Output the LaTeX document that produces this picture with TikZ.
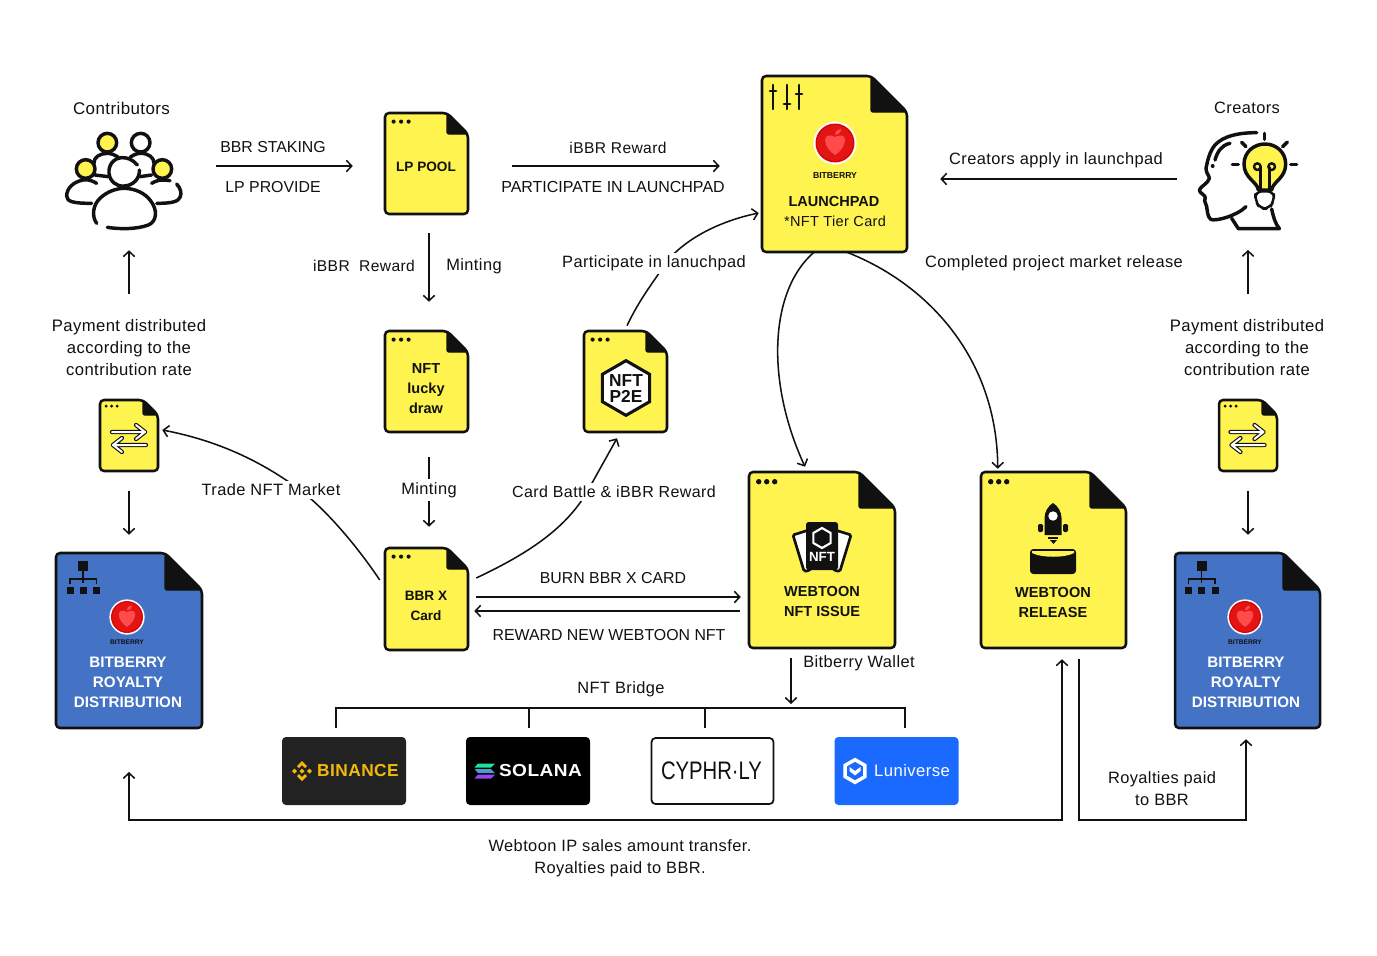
\documentclass[tikz,border=0pt]{standalone}
\usepackage{fontspec}
\setmainfont[LetterSpace=2.5]{Liberation Sans}
\newfontfamily\plainf{Liberation Sans}
\usetikzlibrary{arrows.meta,calc,shapes.geometric}
\definecolor{docy}{HTML}{FFF44F}
\definecolor{docb}{HTML}{4472C4}
\definecolor{ink}{HTML}{111111}
\definecolor{berry}{HTML}{E21414}
\definecolor{berryl}{HTML}{FF4B4B}
\definecolor{binbg}{HTML}{222222}
\definecolor{bingold}{HTML}{F0B90B}
\definecolor{lunib}{HTML}{1A6AFF}
\definecolor{sola}{HTML}{20E0A0}
\definecolor{solb}{HTML}{46A0C8}
\definecolor{solc}{HTML}{9646F0}
\tikzset{
  conn/.style={draw=ink,line width=1.15pt,-{Straight Barb[length=4pt,width=8.5pt,line width=1.15pt]}},
  bothc/.style={draw=ink,line width=1.15pt,{Straight Barb[length=4pt,width=8.5pt,line width=1.15pt]}-{Straight Barb[length=4pt,width=8.5pt,line width=1.15pt]}},
  plainc/.style={draw=ink,line width=1.15pt},
  lbl/.style={font=\fontsize{12.3}{16.5}\selectfont,text=ink,align=center,inner sep=1pt},
  ulbl/.style={font=\plainf\fontsize{11.9}{16.5}\selectfont,text=ink,align=center,inner sep=1pt},
  gaplbl/.style={lbl,fill=white,inner xsep=3pt,inner ysep=2.5pt},
  ttl/.style={font=\plainf\fontsize{10.9}{15}\selectfont\bfseries,text=ink,align=center,inner sep=0pt},
  sttl/.style={font=\plainf\fontsize{10.2}{15}\selectfont\bfseries,text=ink,align=center,inner sep=0pt},
  wttl/.style={font=\plainf\fontsize{11.4}{15.2}\selectfont\bfseries,text=white,align=center,inner sep=0pt},
  tiny/.style={font=\plainf\fontsize{6.5}{7}\selectfont\bfseries,text=ink,inner sep=0pt},
  logobox/.style={rounded corners=3pt,minimum width=93pt,minimum height=51pt,inner sep=0pt},
  ic/.style={draw=ink,line width=2.6pt,line cap=round,line join=round},
  ghost/.style={inner sep=0pt,draw=none},
}
% #1 name, #2 x1, #3 y1, #4 x2, #5 y2, #6 fold, #7 fill, #8 dot radius, #9 dot pitch
\newcommand\docn[9]{%
  \pgfmathsetmacro\dnfx{#4-#6}\pgfmathsetmacro\dnfy{#3+#6}%
  \pgfmathsetmacro\dnw{(#4-#2)*0.75}\pgfmathsetmacro\dnh{(#5-#3)*0.75}%
  \pgfmathsetmacro\dncx{(#4+#2)/2}\pgfmathsetmacro\dncy{(#5+#3)/2}%
  \draw[ink,fill=#7,line width=1.9pt,line join=round,rounded corners=3pt]
    (#2,#3) -- (\dnfx,#3) -- (#4,\dnfy) -- (#4,#5) -- (#2,#5) -- cycle;
  \fill[ink,draw=ink,line width=1pt,rounded corners=1.5pt] (\dnfx,#3) -- (#4,\dnfy) -- (\dnfx,\dnfy) -- cycle;
  \node[ghost,minimum width=\dnw pt,minimum height=\dnh pt] (#1) at (\dncx,\dncy) {};
  \ifdim #8pt>0pt
    \pgfmathsetmacro\dna{#2+#9+#8-1}\pgfmathsetmacro\dnb{#2+2*#9+#8-1}\pgfmathsetmacro\dnc{#2+3*#9+#8-1}%
    \pgfmathsetmacro\dny{#3+#9+#8-1}%
    \foreach \dnx in {\dna,\dnb,\dnc}{\fill[ink] (\dnx,\dny) circle[radius=#8];}
  \fi
}
% berry logo: center x, y, radius
\newcommand\berry[3]{%
  \begin{scope}[shift={(#1,#2)},x=#3*0.75pt,y=-#3*0.75pt]
    \fill[white] (0,0) circle[radius=21.5];
    \fill[berry] (0,0) circle[radius=19.5];
    \draw[red!85!black,line width=#3*0.6pt] (0,0) circle[radius=18.5];
    \fill[berryl] (0,-6) .. controls (-5,-9) and (-10,-8) .. (-10,-3) .. controls (-10,3) and (-5,9) .. (0,12)
      .. controls (5,9) and (10,3) .. (10,-3) .. controls (10,-8) and (5,-9) .. (0,-6) -- cycle;
    \fill[berryl] (0,-8) .. controls (0,-12) and (3,-14) .. (6,-14) .. controls (6,-10) and (3,-8) .. (0,-8) -- cycle;
  \end{scope}}
\begin{document}
\begin{tikzpicture}[x=0.75pt,y=-0.75pt]
\useasboundingbox (0,0) rectangle (1377,956);
\fill[white] (0,0) rectangle (1377,956);

% ---- documents
\docn{lp}{385}{113}{468}{214}{21}{docy}{2.1}{7.5}
\docn{lucky}{385}{331}{468}{432}{21}{docy}{2.1}{7.5}
\docn{ptwoe}{584}{331}{667}{432}{21}{docy}{2.1}{7.5}
\docn{bbrx}{385}{548}{468}{650}{21}{docy}{2.1}{7.5}
\docn{launch}{762}{76}{907}{252}{36}{docy}{0}{0}
\docn{wnft}{749}{472}{895}{648}{36}{docy}{2.7}{8}
\docn{wrel}{981}{472}{1126}{648}{36}{docy}{2.7}{8}
\docn{smallL}{100}{400}{158}{471}{15}{docy}{1.6}{5.5}
\docn{smallR}{1219}{400}{1277}{471}{15}{docy}{1.6}{5.5}
\docn{royL}{56}{553}{202}{728}{37}{docb}{0}{0}
\docn{royR}{1175}{553}{1320}{728}{37}{docb}{0}{0}

% ---- logo boxes
\node[logobox,fill=binbg] (binance) at (344,771) {};
\node[logobox,fill=black] (solana) at (528,771) {};
\node[logobox,fill=white,draw=ink,line width=1.3pt,minimum width=91.5pt,minimum height=49.5pt] (cyphr) at (712.5,771) {};
\node[logobox,fill=lunib] (luni) at (896.5,771) {};

% ---- icon ghosts and free ends
\node[ghost,minimum width=90pt,minimum height=75pt] (people) at (124,168) {};
\node[ghost,minimum width=75pt,minimum height=85pt] (headicon) at (1248,170) {};
\coordinate (stakeS) at (216,166);
\coordinate (ibbrS) at (512,166);
\coordinate (creaS) at (1177,179);
\coordinate (bridgeL) at (336,708);
\coordinate (bridgeR) at (905,708);
\coordinate (bridgeM) at (791,708);
\coordinate (walletS) at (791,658);
\coordinate (lowC) at (129,820);
\coordinate (lowD) at (1062,820);
\coordinate (rigC) at (1079,820);
\coordinate (rigD) at (1246,820);

% ---- connectors
\draw[conn,shorten >=32*0.75pt] (stakeS) -- (stakeS -| lp.west);
\draw[conn,shorten >=42*0.75pt] (ibbrS) -- (ibbrS -| launch.west);
\draw[conn,shorten >=33*0.75pt] (creaS) -- (creaS -| launch.east);
\draw[conn,shorten <=19*0.75pt,shorten >=29*0.75pt] (lp.south -| 429,0) -- (lucky.north -| 429,0);
\draw[conn,shorten <=25*0.75pt,shorten >=21*0.75pt] (lucky.south -| 429,0) -- (bbrx.north -| 429,0);
\draw[conn,shorten <=106*0.75pt,shorten >=32*0.75pt] (129,0 |- smallL.north) -- (129,0 |- people.south);
\draw[conn,shorten <=20*0.75pt,shorten >=18*0.75pt] (129,0 |- smallL.south) -- (129,0 |- royL.north);
\draw[conn,shorten <=20*0.75pt,shorten >=18*0.75pt] (1248,0 |- smallR.south) -- (1248,0 |- royR.north);
\draw[conn,shorten <=106*0.75pt,shorten >=23*0.75pt] (1248,0 |- smallR.north) -- (1248,0 |- headicon.south);
\draw[conn] ($(bbrx.west)+(-5,-19)$) .. controls +(-20,-30) and +(28,21) .. (300,490)
   .. controls +(-40,-30) and (215,440) .. ($(smallL.east)+(4,-5.5)$);
\draw[conn] ($(bbrx.east)+(8,-21)$) .. controls (525,555) and (565,530) .. (587,492)
   -- ($(ptwoe.south)+(-8.5,6)$);
\draw[conn] ($(ptwoe.north)+(1.5,-5)$) .. controls (640,298) and (655,280) .. (668,260)
   .. controls (690,235) and (725,220) .. ($(launch.west)+(-3,49)$);
\draw[conn] ($(launch.south west)!0.359!(launch.south east)$) .. controls (770,290) and (765,380)
   .. ($(wnft.north west)!0.384!(wnft.north east)+(0,-5)$);
\draw[conn] ($(launch.south west)!0.586!(launch.south east)$) .. controls (930,285) and (997,360)
   .. ($(wrel.north west)!0.117!(wrel.north east)+(0,-3)$);
\draw[conn,shorten <=8*0.75pt,shorten >=8*0.75pt] (468,597 -| bbrx.east) -- (749,597 -| wnft.west);
\draw[conn,shorten <=9*0.75pt,shorten >=6*0.75pt] (749,611 -| wnft.west) -- (468,611 -| bbrx.east);
\draw[conn] (walletS) -- ($(bridgeM)+(0,-4)$);
\draw[plainc] (binance.north -| bridgeL) ++(0,-9) -- (bridgeL) -- (bridgeR) -- ++(0,20);
\draw[plainc] (529,708) -- (529,728);
\draw[plainc] (705,708) -- (705,728);
\draw[bothc] (129,772) -- (lowC) -- (lowD) -- ($(wrel.south)+(8.5,11)$);
\draw[conn] ($(wrel.south)+(25.5,11)$) -- (rigC) -- (rigD) -- ($(royR.south)+(-1.5,11)$);

% ---- text labels
\node[lbl,font=\fontsize{12.7}{16.5}\selectfont] (tContrib) at (121.5,108) {Contributors};
\node[lbl] (tCreat) at (1247,108) {Creators};
\node[ulbl] (tStake) at (273,147.5) {BBR STAKING};
\node[ulbl] (tProv) at (273,187.5) {LP PROVIDE};
\node[lbl,font=\fontsize{11.7}{16}\selectfont] (tRew) at (618,148) {iBBR Reward};
\node[ulbl,font=\plainf\fontsize{12}{16.5}\selectfont] (tPart) at (613,187) {PARTICIPATE IN LAUNCHPAD};
\node[lbl] (tApply) at (1056,160) {Creators apply in launchpad};
\node[lbl,font=\fontsize{11.7}{16}\selectfont] (tRew2) at (364,266) {iBBR\ \ Reward};
\node[lbl] (tMint) at (474,266) {Minting};
\node[gaplbl] (tPad) at (654,263.5) {Participate in lanuchpad};
\node[lbl] (tDone) at (1054,263.5) {Completed project market release};
\node[lbl,font=\fontsize{12.5}{16.5}\selectfont] (tPayL) at (129,348) {Payment distributed\\according to the\\contribution rate};
\node[lbl,font=\fontsize{12.5}{16.5}\selectfont] (tPayR) at (1247,348) {Payment distributed\\according to the\\contribution rate};
\node[gaplbl] (tTrade) at (271,490) {Trade NFT Market};
\node[gaplbl] (tMint2) at (429,490) {Minting};
\node[gaplbl,font=\fontsize{12}{16}\selectfont] (tBattle) at (614,492) {Card Battle \& iBBR Reward};
\node[ulbl] (tBurn) at (613,578) {BURN BBR X CARD};
\node[ulbl] (tNew) at (609,635) {REWARD NEW WEBTOON NFT};
\node[lbl] (tWallet) at (859,663.5) {Bitberry Wallet};
\node[lbl] (tBridge) at (621,689.5) {NFT Bridge};
\node[lbl] (tRoy) at (1162,789) {Royalties paid\\to BBR};
\node[lbl] (tIP) at (620,858.5) {Webtoon IP sales amount transfer.\\Royalties paid to BBR.};

% ---- doc titles
\node[sttl] (dLP) at (426,167) {LP POOL};
\node[ttl] (dLucky) at (426,389) {NFT\\lucky\\draw};
\node[sttl] (dBBR) at (426,606) {BBR X\\Card};
\node[ttl] (dLaunch) at (834,201) {LAUNCHPAD};
\node[lbl,font=\fontsize{10.9}{14}\selectfont] (dTier) at (835,221) {*NFT Tier Card};
\node[ttl] (dNft) at (822,601.5) {WEBTOON\\NFT ISSUE};
\node[ttl] (dRel) at (1053,602.5) {WEBTOON\\RELEASE};
\node[wttl] (dRoyL) at (128,682.5) {BITBERRY\\ROYALTY\\DISTRIBUTION};
\node[wttl] (dRoyR) at (1246,682.5) {BITBERRY\\ROYALTY\\DISTRIBUTION};

% ---- berries
\berry{835}{143}{1}
\node[tiny] (bLaunch) at (835,176) {BITBERRY};
\berry{127}{617}{0.82}
\node[tiny,font=\plainf\fontsize{5}{6}\selectfont\bfseries] (bRoyL) at (127,642.5) {BITBERRY};
\berry{1245}{617}{0.82}
\node[tiny,font=\plainf\fontsize{5}{6}\selectfont\bfseries] (bRoyR) at (1245,642.5) {BITBERRY};

% ---- sliders
\begin{scope}[ink,line width=2pt,line cap=round]
  \draw (773,85) -- (773,109); \draw (787,85) -- (787,109); \draw (799,85) -- (799,109);
  \draw (770,91) -- (776,91); \draw (784,104) -- (790,104); \draw (796,94) -- (802,94);
\end{scope}

% ---- org chart
\foreach \ox in {0,1118.5}{
\begin{scope}[xshift=\ox*0.75pt,ink]
  \fill (78,561) rectangle (88,571);
  \fill (66.5,587) rectangle (73.5,594);
  \fill (79.5,587) rectangle (86.5,594);
  \fill (93,587) rectangle (100,594);
  \draw[line width=1pt] (83,571) -- (83,583) (70,584) -- (70,579) -- (96.5,579) -- (96.5,584);
\end{scope}}

% ---- exchange arrows
\foreach \ox in {0,1118.5}{
\begin{scope}[xshift=\ox*0.75pt,line cap=round,line join=round]
  \draw[ink,line width=3.2pt] (112,432) -- (145,432) (136,425) -- (145,432) -- (136,439)
     (146,445) -- (113,445) (122,438) -- (113,445) -- (122,452);
  \draw[white,line width=1.5pt] (112,432) -- (145,432) (136,425) -- (145,432) -- (136,439)
     (146,445) -- (113,445) (122,438) -- (113,445) -- (122,452);
\end{scope}}

% ---- P2E hexagon
\node[draw=ink,fill=white,line width=2.3pt,regular polygon,regular polygon sides=6,shape border rotate=90,minimum size=41pt,inner sep=0pt] (hex) at (626,388) {};
\node[font=\plainf\fontsize{13}{12}\selectfont\bfseries,text=ink,align=center,inner sep=0pt] (hexT) at (626,388.5) {NFT\\P2E};

% ---- NFT cards
\begin{scope}
  \draw[ink,fill=white,line width=2pt,rounded corners=1pt] (793,535) -- (812,529) -- (812,568) -- (808,571) -- (804,571) -- cycle;
  \draw[ink,fill=white,line width=2pt,rounded corners=1pt] (851,535) -- (832,529) -- (832,568) -- (836,571) -- (840,571) -- cycle;
  \fill[ink,rounded corners=2pt] (806,522) rectangle (838,570);
  \node[draw=white,line width=1.6pt,regular polygon,regular polygon sides=6,shape border rotate=90,minimum size=15pt,inner sep=0pt] (hexN) at (822,538) {};
  \node[font=\plainf\fontsize{10}{10}\selectfont\bfseries,text=white,inner sep=0pt] (nftT) at (822,557) {NFT};
\end{scope}

% ---- rocket and envelope
\begin{scope}
  \fill[ink] (1053,503) .. controls (1058,506) and (1061.5,512) .. (1061.5,518) -- (1061.5,535) -- (1044.5,535) -- (1044.5,518) .. controls (1044.5,512) and (1048,506) .. (1053,503) -- cycle;
  \fill[ink,rounded corners=1pt] (1038,524) rectangle (1043,532);
  \fill[ink,rounded corners=1pt] (1063,524) rectangle (1068,532);
  \fill[white] (1053,516) circle[radius=4.7];
  \fill[ink] (1048,536.5) rectangle (1058,538.5);
  \fill[ink] (1050,540) -- (1057,540) -- (1053.5,544) -- cycle;
  \fill[ink,rounded corners=2.5pt] (1030,549) rectangle (1076,574);
  \fill[docy] (1032,551) -- (1074,551) -- (1074,553) .. controls (1065,558) and (1042,558) .. (1032,553) -- cycle;
\end{scope}

% ---- people icon (zoom coordinates)
\begin{scope}[shift={(50,70)},x=0.25pt,y=-0.25pt]
  \draw[ic,fill=docy] (172,218) circle[radius=28];
  \draw[ic,fill=white] (272,218) circle[radius=28];
  \draw[ic,fill=docy] (107,297) circle[radius=28];
  \draw[ic,fill=docy] (337,297) circle[radius=28];
  \draw[ic] (132,280) .. controls (130,262) and (150,250) .. (172,250) .. controls (185,250) and (195,255) .. (205,262);
  \draw[ic] (240,262) .. controls (250,255) and (260,250) .. (272,250) .. controls (295,250) and (312,262) .. (312,280);
  \draw[ic] (135,315) -- (175,320);
  \draw[ic] (270,320) -- (305,315);
  \draw[ic] (140,340) .. controls (125,330) and (110,328) .. (100,330) .. controls (70,335) and (50,355) .. (50,378) .. controls (50,395) and (70,400) .. (125,400);
  \draw[ic] (305,340) .. controls (320,330) and (335,328) .. (360,332);
  \draw[ic] (380,342) .. controls (392,355) and (396,370) .. (390,382) .. controls (385,395) and (365,400) .. (320,400);
  \draw[ic] (140,460) .. controls (125,440) and (128,405) .. (150,385) .. controls (170,365) and (200,355) .. (222,355) .. controls (255,355) and (285,370) .. (300,390) .. controls (325,420) and (320,455) .. (295,465) .. controls (260,478) and (210,478) .. (172,472);
  \draw[ic] (262,285) .. controls (248,268) and (230,262) .. (215,263) .. controls (190,265) and (175,285) .. (177,310) .. controls (180,335) and (200,350) .. (222,348) .. controls (250,347) and (270,325) .. (268,300);
\end{scope}

% ---- head icon (zoom coordinates)
\begin{scope}[shift={(1170,110)},x=0.25pt,y=-0.25pt]
  \draw[ic,fill=docy] (265,240) .. controls (262,215) and (222,205) .. (222,162) .. controls (222,128) and (250,102) .. (285,102) .. controls (320,102) and (347,128) .. (347,162) .. controls (347,205) and (308,215) .. (305,240) -- cycle;
  \draw[ic,fill=white,line width=1.8pt,rounded corners=5pt] (256,244) -- (312,244) -- (312,272) -- (298,296) -- (270,296) -- (256,272) -- cycle;
  \draw[ic,line width=1.8pt] (272,240) -- (272,172) (298,240) -- (298,172);
  \draw[ic,line width=1.8pt] (262,170) circle[radius=10];
  \draw[ic,line width=1.8pt] (305,170) circle[radius=10];
  \draw[ic] (283,70) -- (283,88);
  \draw[ic] (215,97) -- (228,110);
  \draw[ic] (352,96) -- (338,110);
  \draw[ic] (187,163) -- (205,163);
  \draw[ic] (362,163) -- (380,163);
  \draw[ic] (260,68) .. controls (205,68) and (160,78) .. (135,105) .. controls (118,125) and (112,155) .. (108,175) .. controls (108,190) and (118,197) .. (118,205) .. controls (115,220) and (90,230) .. (88,240) .. controls (88,250) and (108,255) .. (106,265) .. controls (100,270) and (108,280) .. (110,290) .. controls (112,300) and (112,320) .. (122,328) .. controls (135,335) and (200,318) .. (228,290);
  \draw[ic] (180,100) .. controls (155,105) and (142,125) .. (135,150);
  \fill[ink] (128,168) circle[radius=6];
  \draw[ic] (185,325) -- (205,356) -- (328,356) .. controls (315,340) and (310,320) .. (305,297);
\end{scope}

% ---- partner logos
% Binance
\begin{scope}[shift={(302,771)},fill=bingold]
  \fill (0,-10) -- (5,-5) -- (3,-3) -- (0,-6) -- (-3,-3) -- (-5,-5) -- cycle;
  \fill (0,10) -- (5,5) -- (3,3) -- (0,6) -- (-3,3) -- (-5,5) -- cycle;
  \fill (-10,0) -- (-7.5,-2.5) -- (-5,0) -- (-7.5,2.5) -- cycle;
  \fill (10,0) -- (7.5,-2.5) -- (5,0) -- (7.5,2.5) -- cycle;
  \fill (0,-2.5) -- (2.5,0) -- (0,2.5) -- (-2.5,0) -- cycle;
\end{scope}
\node[font=\fontsize{13}{13}\selectfont\bfseries,text=bingold,inner sep=0pt,anchor=center] (tBin) at (358,771) {BINANCE};
% Solana
\fill[sola] (478,763.5) -- (495,763.5) -- (491,767.5) -- (474.5,767.5) -- cycle;
\fill[solb] (474.5,769) -- (491,769) -- (495,773) -- (478,773) -- cycle;
\fill[solc] (478,774.5) -- (495,774.5) -- (491,778.5) -- (474.5,778.5) -- cycle;
\node[font=\fontsize{13}{13}\selectfont\bfseries,text=white,inner sep=0pt] (tSol) at (540.5,771) {\scalebox{1.1}[1]{SOLANA}};
% Cyphrly
\node[font=\plainf\fontsize{19}{19}\selectfont,text=ink,inner sep=0pt] (tCyp) at (711.5,771) {\scalebox{0.8}[1]{CYPHR·LY}};
% Luniverse
\node[draw=white,line width=2.6pt,regular polygon,regular polygon sides=6,shape border rotate=90,minimum size=17pt,inner sep=0pt] (hexL) at (855,771) {};
\fill[white] (849.5,767) -- (855,771) -- (860.5,767) -- (860.5,771) -- (855,775.5) -- (849.5,771) -- cycle;
\node[font=\fontsize{12.5}{12.5}\selectfont,text=white,inner sep=0pt] (tLun) at (912,771) {Luniverse};
\end{tikzpicture}
\end{document}
